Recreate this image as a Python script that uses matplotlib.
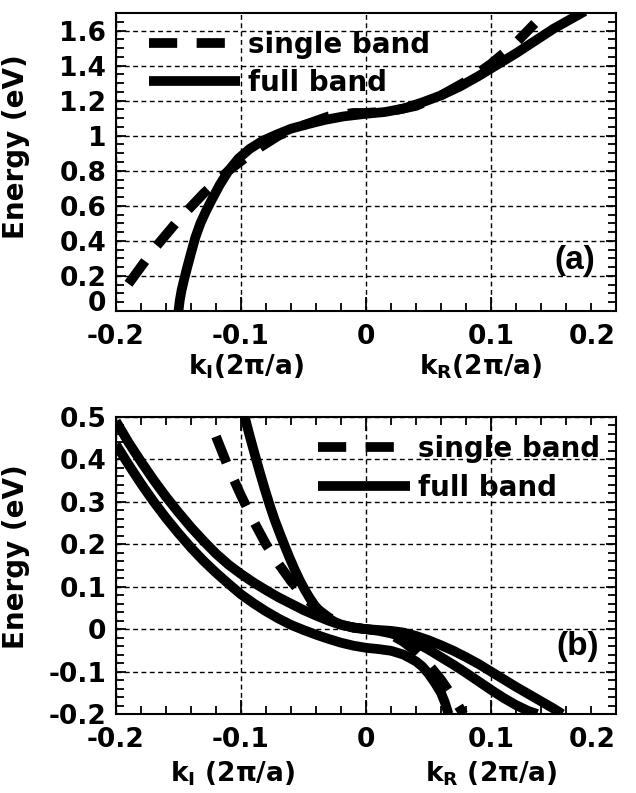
import matplotlib
matplotlib.use('Agg')
import matplotlib.pyplot as plt
from matplotlib.ticker import MultipleLocator
from matplotlib.font_manager import FontProperties

plt.rcParams['font.family'] = 'DejaVu Sans'
plt.rcParams['font.weight'] = 'bold'
plt.rcParams['axes.unicode_minus'] = False
plt.rcParams['mathtext.fontset'] = 'custom'
plt.rcParams['mathtext.rm'] = 'DejaVu Sans:bold'
plt.rcParams['mathtext.bf'] = 'DejaVu Sans:bold'

# tick values
k_ticks = [-0.2, -0.1, 0, 0.1, 0.2]
k_tick_labels = ['-0.2', '-0.1', '0', '0.1', '0.2']
a_E_ticks = [0, 0.2, 0.4, 0.6, 0.8, 1.0, 1.2, 1.4, 1.6]
a_E_tick_labels = ['0', '0.2', '0.4', '0.6', '0.8', '1', '1.2', '1.4', '1.6']
b_E_ticks = [-0.2, -0.1, 0, 0.1, 0.2, 0.3, 0.4, 0.5]
b_E_tick_labels = ['-0.2', '-0.1', '0', '0.1', '0.2', '0.3', '0.4', '0.5']

# ---- panel (a): conduction band ----
a_full_k = [-0.1500, -0.1490, -0.1475, -0.1455, -0.1430, -0.1400, -0.1365, -0.1325, -0.1280,
            -0.1230, -0.1170, -0.1100, -0.1020, -0.0930, -0.0830, -0.0720, -0.0600, -0.0470,
            -0.0330, -0.0180, 0.000, 0.015, 0.030, 0.045, 0.060, 0.075, 0.090, 0.105, 0.120,
            0.135, 0.150, 0.165, 0.175]
a_full_E = [0.00, 0.06, 0.12, 0.18, 0.25, 0.33, 0.42, 0.50, 0.57,
            0.64, 0.72, 0.80, 0.87, 0.925, 0.97, 1.005, 1.04, 1.065,
            1.09, 1.11, 1.125, 1.135, 1.155, 1.19, 1.23, 1.28, 1.34, 1.405, 1.47,
            1.54, 1.61, 1.67, 1.71]
a_single_k = [-0.19, -0.17, -0.15, -0.13, -0.11, -0.09, -0.07, -0.05, -0.03, -0.01, 0.0,
              0.02, 0.04, 0.06, 0.08, 0.10, 0.12, 0.135]
a_single_E = [0.155, 0.35, 0.52, 0.67, 0.80, 0.91, 1.00, 1.06, 1.11, 1.13, 1.13,
              1.14, 1.17, 1.23, 1.31, 1.41, 1.53, 1.64]

# ---- panel (b): valence bands ----
b_full1_k = [-0.200, -0.190, -0.180, -0.170, -0.160, -0.150, -0.140, -0.130, -0.120, -0.110,
             -0.100, -0.090, -0.080, -0.070, -0.060, -0.050, -0.040, -0.030, -0.020, -0.010,
             0.000, 0.010, 0.020, 0.030, 0.040, 0.050, 0.060, 0.070, 0.080, 0.090, 0.100,
             0.110, 0.120, 0.130, 0.140, 0.150, 0.157]
b_full1_E = [0.490, 0.440, 0.395, 0.352, 0.312, 0.275, 0.240, 0.208, 0.178, 0.152,
             0.130, 0.110, 0.092, 0.075, 0.060, 0.045, 0.032, 0.020, 0.010, 0.004,
             0.000, -0.002, -0.004, -0.008, -0.016, -0.026, -0.038, -0.051, -0.066, -0.082, -0.100,
             -0.118, -0.136, -0.153, -0.170, -0.187, -0.200]
b_full2_k = [-0.200, -0.190, -0.180, -0.170, -0.160, -0.150, -0.140, -0.130, -0.120, -0.110,
             -0.100, -0.090, -0.080, -0.070, -0.060, -0.050, -0.040, -0.030, -0.020, -0.010,
             0.000, 0.010, 0.020, 0.030, 0.040, 0.045, 0.050, 0.055, 0.060, 0.063, 0.066]
b_full2_E = [0.435, 0.388, 0.343, 0.301, 0.262, 0.226, 0.192, 0.161, 0.133, 0.107,
             0.082, 0.061, 0.042, 0.025, 0.010, -0.002, -0.013, -0.023, -0.032, -0.039,
             -0.044, -0.047, -0.051, -0.060, -0.076, -0.088, -0.105, -0.126, -0.150, -0.172, -0.200]
b_full3_k = [-0.0970, -0.0930, -0.0890, -0.0850, -0.0810, -0.0770, -0.0730, -0.0690, -0.0650,
             -0.0610, -0.0570, -0.0530, -0.0490, -0.0450, -0.0410, -0.0370, -0.0330, -0.0290,
             -0.0250, -0.0200, -0.0150, -0.0100, 0.000, 0.010, 0.020, 0.030, 0.040, 0.050,
             0.060, 0.070, 0.080, 0.090, 0.100, 0.110, 0.120, 0.130, 0.137]
b_full3_E = [0.500, 0.455, 0.412, 0.370, 0.330, 0.292, 0.257, 0.226, 0.196,
             0.167, 0.140, 0.115, 0.093, 0.073, 0.056, 0.042, 0.032, 0.024,
             0.017, 0.011, 0.007, 0.004, 0.000, -0.004, -0.010, -0.019, -0.032, -0.048,
             -0.066, -0.084, -0.103, -0.123, -0.143, -0.162, -0.179, -0.193, -0.200]
b_single_k = [-0.120, -0.110, -0.100, -0.090, -0.080, -0.070, -0.060, -0.050, -0.040,
              -0.030, -0.020, -0.010, 0.0, 0.010, 0.020, 0.030, 0.040, 0.050, 0.060, 0.070, 0.078]
b_single_E = [0.454, 0.380, 0.315, 0.255, 0.200, 0.154, 0.113, 0.079, 0.050,
              0.028, 0.013, 0.003, 0.0, -0.003, -0.013, -0.030, -0.053, -0.083, -0.119, -0.162, -0.200]

lw = 7.0
dash = (0, (2.9, 2.0))
tick_font = 19
leg_prop = FontProperties(family='DejaVu Sans', weight='bold', size=20)

fig = plt.figure(figsize=(6.36, 7.93), dpi=100)
ax1 = fig.add_axes([116 / 636, 1 - 311 / 793, 500 / 636, 298 / 793])
ax2 = fig.add_axes([116 / 636, 1 - 714 / 793, 500 / 636, 297 / 793])


def style_axis(ax, yticks, ylabels, yminor, top_ticks):
    ax.set_xlim(-0.2, 0.2)
    ax.set_xticks(k_ticks, k_tick_labels)
    ax.xaxis.set_minor_locator(MultipleLocator(0.02))
    ax.set_yticks(yticks, ylabels)
    ax.yaxis.set_minor_locator(MultipleLocator(yminor))
    ax.tick_params(axis='both', which='both', direction='in', width=1.3,
                   right=True, top=top_ticks, labelsize=tick_font)
    ax.tick_params(axis='x', which='major', length=10, pad=9.5)
    ax.tick_params(axis='x', which='minor', length=6)
    ax.tick_params(axis='y', which='major', length=7, pad=7)
    ax.tick_params(axis='y', which='minor', length=6)
    for lab in ax.get_xticklabels() + ax.get_yticklabels():
        lab.set_fontweight('bold')
    # last label sits inside the figure edge, as in the original
    ax.get_xticklabels()[-1].set_horizontalalignment('right')
    ax.grid(True, which='major', color='black', linewidth=1.0, linestyle=(0, (3.5, 2.5)))
    ax.set_axisbelow(True)
    for sp in ax.spines.values():
        sp.set_linewidth(1.5)
    ax.set_ylabel('Energy (eV)', fontsize=20, fontweight='bold')


# panel (a)
style_axis(ax1, a_E_ticks, a_E_tick_labels, 0.05, False)
ax1.set_ylim(0, 1.7)
# lowest label sits on the corner line, as in the original
ax1.get_yticklabels()[0].set_verticalalignment('baseline')
ax1.yaxis.set_label_coords(-0.172, 0.55)
l_single, = ax1.plot(a_single_k, a_single_E, color='black', lw=lw, linestyle=dash,
                     dash_capstyle='butt', label='single band')
l_full, = ax1.plot(a_full_k, a_full_E, color='black', lw=lw, solid_capstyle='butt',
                   solid_joinstyle='round', label='full band')
ax1.legend(handles=[l_single, l_full], loc='upper left', bbox_to_anchor=(0.065, 0.94),
           frameon=False, prop=leg_prop, handlelength=3.3, handletextpad=0.3,
           labelspacing=0.35, borderpad=0, borderaxespad=0)
ax1.text(0.918, 0.171, '(a)', transform=ax1.transAxes, fontsize=24, fontweight='bold',
         family='Liberation Sans', ha='center', va='center')
ax1.text(0.26, -0.187, r'k$_\mathrm{I}$(2π/a)', transform=ax1.transAxes,
         fontsize=19, fontweight='bold', ha='center', va='center')
ax1.text(0.73, -0.187, r'k$_\mathrm{R}$(2π/a)', transform=ax1.transAxes,
         fontsize=19, fontweight='bold', ha='center', va='center')

# panel (b)
style_axis(ax2, b_E_ticks, b_E_tick_labels, 0.02, True)
ax2.set_ylim(-0.2, 0.5)
ax2.yaxis.set_label_coords(-0.172, 0.53)
s2, = ax2.plot(b_single_k, b_single_E, color='black', lw=lw, linestyle=dash,
               dash_capstyle='butt', label='single band')
f2, = ax2.plot(b_full1_k, b_full1_E, color='black', lw=lw, solid_capstyle='butt',
               solid_joinstyle='round', label='full band')
ax2.plot(b_full2_k, b_full2_E, color='black', lw=lw, solid_capstyle='butt',
         solid_joinstyle='round')
ax2.plot(b_full3_k, b_full3_E, color='black', lw=lw, solid_capstyle='butt',
         solid_joinstyle='round')
ax2.legend(handles=[s2, f2], loc='upper left', bbox_to_anchor=(0.404, 0.94),
           frameon=False, prop=leg_prop, handlelength=3.3, handletextpad=0.3,
           labelspacing=0.4, borderpad=0, borderaxespad=0)
ax2.text(0.924, 0.226, '(b)', transform=ax2.transAxes, fontsize=24, fontweight='bold',
         family='Liberation Sans', ha='center', va='center')
ax2.text(0.234, -0.2, r'k$_\mathrm{I}$ (2π/a)', transform=ax2.transAxes,
         fontsize=19, fontweight='bold', ha='center', va='center')
ax2.text(0.75, -0.2, r'k$_\mathrm{R}$ (2π/a)', transform=ax2.transAxes,
         fontsize=19, fontweight='bold', ha='center', va='center')

plt.savefig('out.png', dpi=100)
plt.close()
